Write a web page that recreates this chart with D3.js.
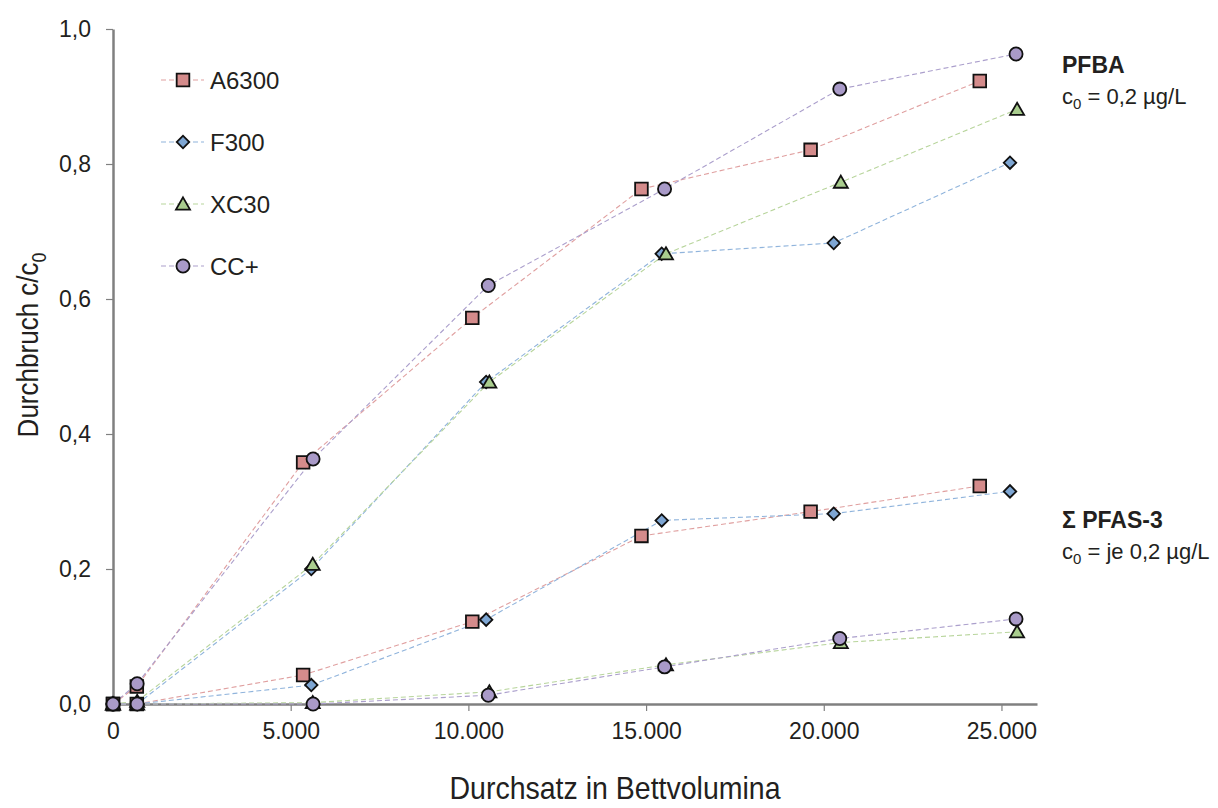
<!DOCTYPE html>
<html>
<head>
<meta charset="utf-8">
<script src="https://cdn.jsdelivr.net/npm/d3@7"></script>
<style>
  html, body { margin: 0; padding: 0; background: #fff; }
  svg { display: block; font-family: "Liberation Sans", Arial, sans-serif; }
</style>
</head>
<body>
<svg id="chart" width="1218" height="808"></svg>
<script>
// Bed volumes at which each adsorbent was sampled
const xA6300 = [0, 670, 5350, 10110, 14870, 19630, 24390];
const xF300  = [0, 680, 5580, 10500, 15440, 20280, 25240];
const xXC30  = [0, 680, 5620, 10590, 15560, 20480, 25440];
const xCCplus = [0, 680, 5630, 10560, 15520, 20450, 25410];

// Breakthrough c/c0 for PFBA
const pfbaA6300 = [0, 0.026, 0.358, 0.572, 0.763, 0.821, 0.923];
const pfbaF300  = [0, 0.0, 0.200, 0.477, 0.667, 0.683, 0.802];
const pfbaXC30  = [0, 0.004, 0.207, 0.477, 0.667, 0.773, 0.881];
const pfbaCCplus = [0, 0.030, 0.363, 0.620, 0.763, 0.911, 0.963];

// Breakthrough c/c0 for the sum of PFAS-3
const sumA6300 = [0, 0.0, 0.043, 0.122, 0.249, 0.285, 0.323];
const sumF300  = [0, 0.0, 0.028, 0.125, 0.272, 0.282, 0.315];
const sumXC30  = [0, 0.0, 0.002, 0.018, 0.058, 0.091, 0.107];
const sumCCplus = [0, 0.0, 0.0, 0.013, 0.055, 0.097, 0.126];

const seriesNames = ["A6300", "F300", "XC30", "CC+"];
const xTicks = [0, 5000, 10000, 15000, 20000, 25000];
const yTicks = [0, 0.2, 0.4, 0.6, 0.8, 1.0];

const lineColors   = { "A6300": "#e0a0a0", "F300": "#90b4dc", "XC30": "#b8d59c", "CC+": "#ab9fcc" };
const markerFills  = { "A6300": "#d48b8b", "F300": "#7ea6d3", "XC30": "#a9cd8e", "CC+": "#a99ac8" };
const markerShapes = { "A6300": d3.symbolSquare, "F300": d3.symbolSquare, "XC30": d3.symbolTriangle, "CC+": d3.symbolCircle };
const markerSizes  = { "A6300": 160, "F300": 78, "XC30": 85, "CC+": 135 };
const markerAngles = { "A6300": 0, "F300": 45, "XC30": 0, "CC+": 0 };

const series = [
  { name: "A6300", x: xA6300, y: pfbaA6300 },
  { name: "F300",  x: xF300,  y: pfbaF300 },
  { name: "XC30",  x: xXC30,  y: pfbaXC30 },
  { name: "CC+",   x: xCCplus, y: pfbaCCplus },
  { name: "A6300", x: xA6300, y: sumA6300 },
  { name: "F300",  x: xF300,  y: sumF300 },
  { name: "XC30",  x: xXC30,  y: sumXC30 },
  { name: "CC+",   x: xCCplus, y: sumCCplus }
];

const de = d3.formatLocale({ decimal: ",", thousands: ".", grouping: [3], currency: ["", " €"] });
const fmtX = de.format(",d");
const fmtY = de.format(".1f");

const svg = d3.select("#chart");
const margin = { left: 113, top: 29, right: 181, bottom: 104 };
const W = 1218, H = 808;

const x = d3.scaleLinear().domain([0, 26000]).range([margin.left, W - margin.right]);
const y = d3.scaleLinear().domain([0, 1]).range([H - margin.bottom, margin.top]);

const textColor = "#231f20";
const axisColor = "#808080";

// Axes
const xAxis = svg.append("g")
  .attr("transform", `translate(0,${y(0)})`)
  .call(d3.axisBottom(x).tickValues(xTicks).tickFormat(fmtX).tickSize(7).tickSizeOuter(0).tickPadding(12));
const yAxis = svg.append("g")
  .attr("transform", `translate(${x(0)},0)`)
  .call(d3.axisLeft(y).tickValues(yTicks).tickFormat(fmtY).tickSize(7).tickSizeOuter(0).tickPadding(15));

[xAxis, yAxis].forEach(g => {
  g.select(".domain").attr("stroke", axisColor).attr("stroke-width", 2.5);
  g.selectAll(".tick line").attr("stroke", axisColor).attr("stroke-width", 1.2);
  g.selectAll(".tick text").attr("fill", textColor).attr("font-size", 23)
    .attr("font-family", "Liberation Sans, Arial, sans-serif");
});

// Dashed connecting lines
const line = d3.line().x(d => x(d[0])).y(d => y(d[1]));
const linesG = svg.append("g");
series.forEach(s => {
  const pts = s.x.map((v, i) => [v, s.y[i]]);
  linesG.append("path")
    .attr("d", line(pts))
    .attr("fill", "none")
    .attr("stroke", lineColors[s.name])
    .attr("stroke-width", 1.1)
    .attr("stroke-dasharray", "5,3");
});

// Markers
function marker(g, name, cx, cy) {
  const sym = d3.symbol().type(markerShapes[name]).size(markerSizes[name]);
  const dy = name === "XC30" ? 1.5 : 0;
  g.append("path")
    .attr("d", sym())
    .attr("transform", `translate(${cx},${cy + dy}) rotate(${markerAngles[name]})`)
    .attr("fill", markerFills[name])
    .attr("stroke", "#111")
    .attr("stroke-width", 1.8);
}
const marksG = svg.append("g");
series.forEach(s => {
  s.x.forEach((v, i) => marker(marksG, s.name, x(v), y(s.y[i])));
});

// Legend
const legend = svg.append("g");
seriesNames.forEach((name, i) => {
  const ly = 80 + i * 62;
  legend.append("line")
    .attr("x1", 161).attr("x2", 204).attr("y1", ly).attr("y2", ly)
    .attr("stroke", lineColors[name]).attr("stroke-width", 1.1).attr("stroke-dasharray", "5,3");
  marker(legend, name, 183, ly);
  legend.append("text")
    .attr("x", 210).attr("y", ly + 9)
    .attr("font-size", 24).attr("fill", textColor)
    .text(name);
});

// Axis titles
const yTitle = svg.append("text")
  .attr("transform", `translate(38,345) rotate(-90) scale(0.93,1.08)`)
  .attr("text-anchor", "middle").attr("font-size", 28).attr("fill", textColor);
yTitle.append("tspan").text("Durchbruch c/c");
yTitle.append("tspan").attr("font-size", 19).attr("dy", 7).text("0");

svg.append("text")
  .attr("transform", "translate(615,799) scale(0.95,1.06)")
  .attr("text-anchor", "middle").attr("font-size", 30).attr("fill", textColor)
  .text("Durchsatz in Bettvolumina");

// Group annotations
function annotate(yTop, title, concText) {
  svg.append("text").attr("x", 1062).attr("y", yTop)
    .attr("font-size", 23).attr("font-weight", "bold").attr("fill", textColor).text(title);
  const t = svg.append("text").attr("x", 1062).attr("y", yTop + 31)
    .attr("font-size", 22).attr("fill", textColor);
  t.append("tspan").text("c");
  t.append("tspan").attr("font-size", 15).attr("dy", 5).text("0");
  t.append("tspan").attr("dy", -5).text(" = " + concText);
}
annotate(73, "PFBA", "0,2 µg/L");
annotate(528, "Σ PFAS-3", "je 0,2 µg/L");
</script>
</body>
</html>
